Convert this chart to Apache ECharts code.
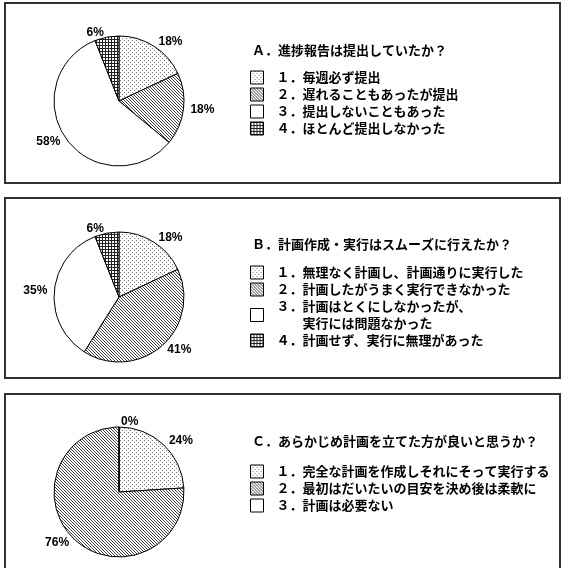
<!DOCTYPE html>
<html>
<head>
<meta charset="utf-8">
<script src="https://cdn.jsdelivr.net/npm/echarts@6/dist/echarts.min.js"></script>
<style>
html,body{margin:0;padding:0;background:#fff;}
#main{width:568px;height:568px;}
</style>
</head>
<body>
<div id="main"></div>
<script>
// ---- data ----
const titleA = 'Ａ．進捗報告は提出していたか？';
const catsA = ['１．毎週必ず提出', '２．遅れることもあったが提出', '３．提出しないこともあった', '４．ほとんど提出しなかった'];
const valsA = [18, 18, 58, 6];

const titleB = 'Ｂ．計画作成・実行はスムーズに行えたか？';
const catsB = ['１．無理なく計画し、計画通りに実行した', '２．計画したがうまく実行できなかった', '３．計画はとくにしなかったが、\n　　実行には問題なかった', '４．計画せず、実行に無理があった'];
const valsB = [18, 41, 35, 6];

const titleC = 'Ｃ．あらかじめ計画を立てた方が良いと思うか？';
const catsC = ['１．完全な計画を作成しそれにそって実行する', '２．最初はだいたいの目安を決め後は柔軟に', '３．計画は必要ない'];
const valsC = [24, 76, 0];

// ---- patterns ----
function makePattern(size, draw) {
  const c = document.createElement('canvas');
  c.width = size; c.height = size;
  const g = c.getContext('2d');
  g.fillStyle = '#fff'; g.fillRect(0, 0, size, size);
  draw(g);
  return { image: c, repeat: 'repeat' };
}
const patDots = makePattern(4, g => { g.fillStyle = '#7a7a7a'; g.fillRect(0, 0, 1, 1); g.fillRect(2, 2, 1, 1); });
const patDiag = makePattern(3, g => { g.fillStyle = '#444'; for (let i = 0; i < 3; i++) g.fillRect(i, i, 1, 1); });
const patWhite = '#ffffff';
const patGrid = makePattern(3, g => { g.fillStyle = '#222'; g.fillRect(0, 0, 3, 1); g.fillRect(0, 0, 1, 3); });
const fillsA = [patDots, patDiag, patWhite, patGrid];
const fillsB = [patDots, patDiag, patWhite, patGrid];
const fillsC = [patDots, patDiag, patWhite];

const chart = echarts.init(document.getElementById('main'), null, { renderer: 'canvas' });

const cjk = '"Noto Sans CJK JP", sans-serif';
function pieSeries(name, cats, vals, fills, center) {
  return {
    type: 'pie',
    name: name,
    center: center,
    radius: 65,
    startAngle: 90,
    clockwise: true,
    avoidLabelOverlap: false,
    silent: true,
    animation: false,
    itemStyle: { borderColor: '#000', borderWidth: 1 },
    label: {
      show: true, position: 'outside', formatter: '{c}%',
      fontFamily: '"Liberation Sans", Arial, sans-serif', fontWeight: 'bold', fontSize: 12,
      color: '#000', distanceToLabelLine: 2
    },
    labelLine: { show: false, length: 5, length2: 0 },
    emphasis: { disabled: true },
    data: cats.map((c, i) => ({ name: c, value: vals[i], itemStyle: { color: fills[i] } }))
  };
}
function legend(cats, top) {
  return {
    orient: 'vertical', left: 250, top: top, padding: 0, itemGap: 0,
    itemWidth: 13, itemHeight: 13, icon: 'rect', selectedMode: false,
    itemStyle: { borderColor: '#000', borderWidth: 1 },
    textStyle: { fontFamily: cjk, fontWeight: 'bold', fontSize: 13, lineHeight: 17, color: '#000', padding: [0, 0, 0, 8] },
    data: cats
  };
}
function title(text, top) {
  return {
    text: text, left: 252, top: top, padding: 0,
    textStyle: { fontFamily: cjk, fontWeight: 'bold', fontSize: 13, lineHeight: 17, color: '#000' }
  };
}

const frames = [3, 198, 394].map(y => ({
  type: 'rect', shape: { x: 5, y: y, width: 555, height: 180 },
  style: { fill: 'none', stroke: '#333', lineWidth: 2 }, silent: true, z: -1
}));

chart.setOption({
  backgroundColor: '#fff',
  animation: false,
  title: [title(titleA, 42), title(titleB, 236), title(titleC, 433)],
  legend: [legend(catsA, 69), legend(catsB, 264), legend(catsC, 463)],
  graphic: frames,
  series: [
    pieSeries('A', catsA, valsA, fillsA, [119, 101]),
    pieSeries('B', catsB, valsB, fillsB, [119, 297]),
    pieSeries('C', catsC, valsC, fillsC, [119, 492])
  ]
});
</script>
</body>
</html>
